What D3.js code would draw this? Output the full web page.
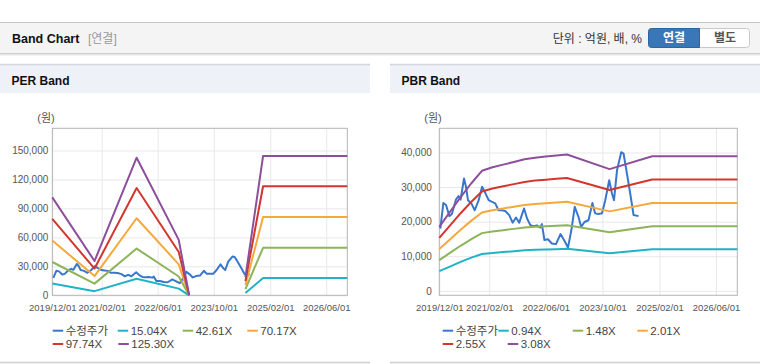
<!DOCTYPE html>
<html>
<head>
<meta charset="utf-8">
<script src="https://cdn.jsdelivr.net/npm/d3@7"></script>
<style>
  body { margin: 0; background: #fff; }
  svg { display: block; font-family: "Liberation Sans", "Noto Sans CJK KR", sans-serif; }
</style>
</head>
<body>
<svg id="page" width="760" height="364"></svg>
<script>
// 수정주가 (adjusted price), shared by both charts
const priceDates = [
  "2019-12-10","2020-01-05","2020-01-28","2020-02-25","2020-03-18","2020-04-22","2020-05-14","2020-06-01",
  "2020-06-30","2020-07-17","2020-08-03","2020-09-01","2020-09-30","2020-11-03","2020-12-02","2020-12-31",
  "2021-01-28","2021-02-26","2021-03-25","2021-04-22","2021-05-21","2021-06-19","2021-07-23","2021-08-21",
  "2021-09-19","2021-10-17","2021-11-27","2021-12-23","2022-01-20","2022-02-18","2022-03-17","2022-04-15",
  "2022-04-29","2022-05-21","2022-06-20","2022-07-24","2022-08-28","2022-10-06","2022-11-05","2022-12-09",
  "2023-01-07","2023-02-05","2023-03-09","2023-04-01","2023-04-30","2023-06-03","2023-07-07","2023-07-30",
  "2023-08-28","2023-09-27","2023-10-25","2023-11-28","2023-12-21","2024-01-08","2024-02-03","2024-03-10",
  "2024-03-30","2024-04-28","2024-05-26","2024-06-24","2024-08-06"
];
const priceValues = [
  18000, 25400, 24800, 21600, 22200, 26400, 27400, 26400,
  32500, 30100, 26200, 25300, 23300, 26200, 30100, 28200,
  26200, 25700, 25300, 23300, 23300, 23100, 21900, 19700,
  21200, 19700, 23800, 20900, 19000, 18700, 18900, 18300,
  19300, 14700, 14900, 13700, 13500, 16400, 14700, 12500,
  17500, 24300, 21400, 18500, 19900, 20400, 25400, 22400,
  22200, 22400, 26200, 32000, 28200, 26200, 34900, 40100,
  39700, 33900, 28200, 21900, 21600
];

// PER band (null = no value)
const perDates = ["2019-12-01","2020-12-01","2021-12-01","2022-12-01","2023-03-01","2024-01-01","2024-07-01","2024-12-01","2026-12-01"];
const per1504 = [12200, 4300, 17100, 6900, 0, null, 2300, 18000, 18000];
const per4261 = [34500, 12100, 48400, 19500, 0, null, 6400, 49200, 49200];
const per7017 = [56800, 19900, 79800, 32100, 0, null, 10500, 81000, 81000];
const per9774 = [79100, 27700, 111100, 44800, 0, null, 14700, 113000, 113000];
const per12530 = [101400, 35500, 142500, 57400, 0, null, 18800, 144300, 144300];
const perNames = ["수정주가", "15.04X", "42.61X", "70.17X", "97.74X", "125.30X"];

// PBR band
const pbrDates = ["2019-12-01","2020-03-01","2020-06-01","2020-09-01","2020-12-01","2021-03-01","2021-06-01","2021-09-01",
  "2021-12-01","2022-03-01","2022-06-01","2022-09-01","2022-12-01","2023-12-01","2024-12-01","2026-12-01"];
const pbr094 = [5700, 7000, 8350, 9600, 10650, 10950, 11200, 11450, 11700, 11850, 11950, 12050, 12150, 10850, 12000, 12000];
const pbr148 = [8880, 10950, 13020, 14950, 16680, 17170, 17540, 17910, 18280, 18500, 18650, 18800, 18940, 16920, 18690, 18690];
const pbr201 = [12060, 14870, 17690, 20300, 22650, 23320, 23820, 24320, 24820, 25130, 25330, 25530, 25730, 22970, 25390, 25390];
const pbr255 = [15300, 18870, 22440, 25760, 28740, 29580, 30220, 30860, 31490, 31880, 32130, 32390, 32640, 29150, 32210, 32210];
const pbr308 = [18480, 22790, 27100, 31110, 34710, 35730, 36500, 37270, 38040, 38500, 38810, 39120, 39420, 35200, 38900, 38900];
const pbrNames = ["수정주가", "0.94X", "1.48X", "2.01X", "2.55X", "3.08X"];

const xTicks = ["2019-12-01","2021-02-01","2022-06-01","2023-10-01","2025-02-01","2026-06-01"];
const perTicks = [0, 30000, 60000, 90000, 120000, 150000];
const pbrTicks = [0, 10000, 20000, 30000, 40000];

const colors = ["#3877cc", "#1fb3c5", "#8db45a", "#f4a93a", "#d2362e", "#8d4f9b"];

const parse = d3.timeParse("%Y-%m-%d");
const svg = d3.select("#page");

// ---- page header ----
svg.append("rect").attr("x", 0).attr("y", 22).attr("width", 760).attr("height", 31).attr("fill", "#f4f4f4");
svg.append("line").attr("x1", 0).attr("x2", 760).attr("y1", 22.5).attr("y2", 22.5).attr("stroke", "#c4c4c4");
svg.append("line").attr("x1", 0).attr("x2", 760).attr("y1", 53.5).attr("y2", 53.5).attr("stroke", "#cfcfcf");
svg.append("line").attr("x1", 0).attr("x2", 760).attr("y1", 54.5).attr("y2", 54.5).attr("stroke", "#e6e6e6");
svg.append("line").attr("x1", 0).attr("x2", 760).attr("y1", 55.5).attr("y2", 55.5).attr("stroke", "#f3f3f3");

svg.append("text").attr("x", 12).attr("y", 42.5).attr("font-size", 12.5).attr("font-weight", "bold")
  .attr("fill", "#111").text("Band Chart");
svg.append("text").attr("x", 88).attr("y", 42.5).attr("font-size", 12).attr("fill", "#999").text("[연결]");
svg.append("text").attr("x", 642).attr("y", 42.5).attr("font-size", 12).attr("fill", "#333")
  .attr("text-anchor", "end").text("단위 : 억원, 배, %");

const btn = svg.append("g");
btn.append("rect").attr("x", 648.5).attr("y", 28.5).attr("width", 101).attr("height", 19).attr("rx", 3)
  .attr("fill", "#fff").attr("stroke", "#c8c8c8");
btn.append("path").attr("d", "M699.5,28.5 H651.5 Q648.5,28.5 648.5,31.5 V44.5 Q648.5,47.5 651.5,47.5 H699.5 Z")
  .attr("fill", "#3a77b8").attr("stroke", "#2e64a0");
btn.append("text").attr("x", 674).attr("y", 42).attr("text-anchor", "middle").attr("font-size", 12)
  .attr("font-weight", "bold").attr("fill", "#fff").text("연결");
btn.append("text").attr("x", 725).attr("y", 42).attr("text-anchor", "middle").attr("font-size", 12)
  .attr("font-weight", "bold").attr("fill", "#555").text("별도");

// ---- one band panel ----
function drawPanel(cfg) {
  const g = svg.append("g");
  // panel frame
  g.append("rect").attr("x", cfg.px).attr("y", 64).attr("width", 370).attr("height", 29).attr("fill", "#eef2f8");
  g.append("line").attr("x1", cfg.px).attr("x2", cfg.px + 370).attr("y1", 64.5).attr("y2", 64.5).attr("stroke", "#d4d6da").attr("stroke-width", 1.5);
  g.append("line").attr("x1", cfg.px).attr("x2", cfg.px + 370).attr("y1", 362.5).attr("y2", 362.5).attr("stroke", "#d0d0d0").attr("stroke-width", 1.5);
  g.append("text").attr("x", cfg.px + 11.5).attr("y", 84.5).attr("font-size", 12).attr("font-weight", "bold")
    .attr("fill", "#111").text(cfg.title);

  const x = d3.scaleTime().domain([parse("2019-12-01"), parse("2026-12-01")]).range([cfg.left, cfg.right]);
  const y = d3.scaleLinear().domain(cfg.yDomain).range([295.3, 128.3]);
  const w = cfg.right - cfg.left, h = 295.3 - 128.3;

  // grid + y labels
  const ya = g.append("g").attr("transform", `translate(${cfg.left},0)`)
    .call(d3.axisLeft(y).tickValues(cfg.yTicks).tickSize(-w).tickPadding(cfg.yPad).tickFormat(d3.format(",")));
  ya.select(".domain").remove();
  ya.selectAll("line").attr("stroke", "#e8e8e8");
  ya.selectAll("text").attr("font-size", 10).attr("fill", "#555");

  const xa = g.append("g").attr("transform", "translate(0,295.3)")
    .call(d3.axisBottom(x).tickValues(xTicks.map(parse)).tickSize(-h).tickPadding(9)
      .tickFormat(d3.timeFormat("%Y/%m/%d")));
  xa.select(".domain").remove();
  xa.selectAll("line").attr("stroke", "#e8e8e8");
  xa.selectAll("text").attr("font-size", 9.5).attr("fill", "#555");

  g.append("rect").attr("x", cfg.left).attr("y", 128.3).attr("width", w).attr("height", h)
    .attr("fill", "none").attr("stroke", "#b4b4b4");

  g.append("text").attr("x", cfg.left - 15).attr("y", 122).attr("font-size", 11).attr("fill", "#555").text("(원)");

  const line = d3.line().defined(d => d.v != null).x(d => x(d.d)).y(d => y(d.v));
  const series = [
    priceDates.map((d, i) => ({ d: parse(d), v: priceValues[i] })),
    ...cfg.bands.map(vals => cfg.dates.map((d, i) => ({ d: parse(d), v: vals[i] })))
  ];
  g.append("g").selectAll("path").data(series).join("path")
    .attr("d", line).attr("fill", "none")
    .attr("stroke", (d, i) => colors[i]).attr("stroke-width", 2)
    .attr("stroke-linejoin", "round");

  // legend
  const lg = g.append("g").selectAll("g").data(cfg.names).join("g")
    .attr("transform", (d, i) => `translate(${cfg.legendX[i]},${i < 4 ? 330.7 : 344})`);
  lg.append("line").attr("x1", 0).attr("x2", 10.5).attr("stroke", (d, i) => colors[i]).attr("stroke-width", 2);
  lg.append("text").attr("x", 13).attr("y", 4).attr("font-size", 11.5).attr("fill", "#444").text(d => d);
}

drawPanel({
  px: 0, title: "PER Band", left: 52.3, right: 347.3, yDomain: [0, 173000], yTicks: perTicks, yPad: 4,
  dates: perDates, bands: [per1504, per4261, per7017, per9774, per12530], names: perNames,
  legendX: [52.7, 117.7, 182.7, 247.3, 52.7, 118.3]
});
drawPanel({
  px: 390, title: "PBR Band", left: 439.3, right: 737.3, yDomain: [-1300, 47000], yTicks: pbrTicks, yPad: 7.5,
  dates: pbrDates, bands: [pbr094, pbr148, pbr201, pbr255, pbr308], names: pbrNames,
  legendX: [442.7, 498.3, 572.7, 637.3, 442.7, 507.7]
});
</script>
</body>
</html>
